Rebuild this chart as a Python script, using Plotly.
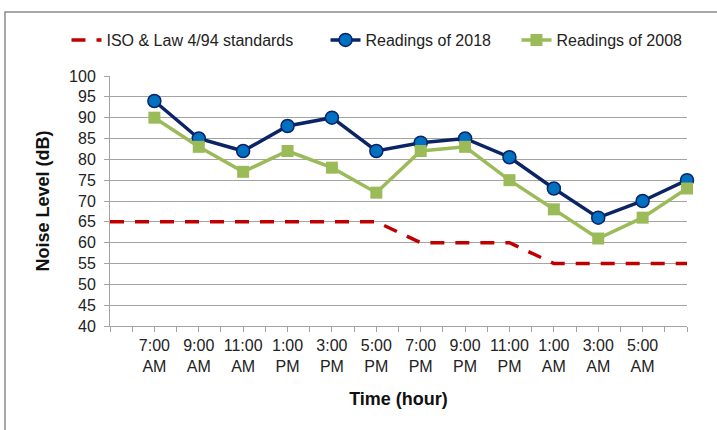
import plotly.graph_objects as go

# ---- data ----
reading_hours = [7, 9, 11, 13, 15, 17, 19, 21, 23, 25, 27, 29, 31]
readings_2018 = [94, 85, 82, 88, 90, 82, 84, 85, 80.5, 73, 66, 70, 75]
readings_2008 = [90, 83, 77, 82, 78, 72, 82, 83, 75, 68, 61, 66, 73]

standard_hours = [5, 7, 9, 11, 13, 15, 17, 19, 21, 23, 25, 27, 29, 31]
standard_values = [65, 65, 65, 65, 65, 65, 65, 60, 60, 60, 55, 55, 55, 55]

tick_hours = [7, 9, 11, 13, 15, 17, 19, 21, 23, 25, 27, 29]
tick_labels = ["7:00 AM", "9:00 AM", "11:00 AM", "1:00 PM", "3:00 PM", "5:00 PM",
               "7:00 PM", "9:00 PM", "11:00 PM", "1:00 AM", "3:00 AM", "5:00 AM"]

FONT = "Liberation Sans"
GRID = "#a3a3a3"
NAVY = "#0b2466"
BLUE = "#0070c0"
GREEN = "#9bbb59"
RED = "#c00000"
TXT = "#222222"

fig = go.Figure()
fig.add_trace(go.Scatter(
    x=standard_hours, y=standard_values, mode="lines",
    name="ISO & Law 4/94 standards", legend="legend",
    line=dict(color=RED, width=3.5, dash="14px,11px"),
    cliponaxis=False,
))
fig.add_trace(go.Scatter(
    x=reading_hours, y=readings_2018, mode="lines+markers",
    name="Readings of 2018", legend="legend2",
    line=dict(color=NAVY, width=3.5),
    marker=dict(symbol="circle", size=13, color=BLUE, line=dict(color=NAVY, width=1.5)),
    cliponaxis=False,
))
fig.add_trace(go.Scatter(
    x=reading_hours, y=readings_2008, mode="lines+markers",
    name="Readings of 2008", legend="legend3",
    line=dict(color=GREEN, width=3.5),
    marker=dict(symbol="square", size=12, color=GREEN, line=dict(color=GREEN, width=0)),
    cliponaxis=False,
))

def leg(x):
    return dict(orientation="h", x=x, xanchor="left", y=1.144, yanchor="middle",
                font=dict(family=FONT, size=16, color=TXT), bgcolor="rgba(0,0,0,0)")

fig.update_layout(
    width=717, height=430,
    margin=dict(l=110, r=30, t=76, b=104, autoexpand=False),
    paper_bgcolor="white", plot_bgcolor="white",
    font=dict(family=FONT, size=16, color=TXT),
    showlegend=True,
    legend=leg(-0.0754),
    legend2=leg(0.3735),
    legend3=leg(0.7045),
    shapes=[dict(type="rect", xref="paper", yref="paper",
                 x0=-0.182, x1=1.075, y0=-0.456, y1=1.256,
                 line=dict(color="#8c8c8c", width=1.5), fillcolor="rgba(0,0,0,0)", layer="below")],
)

fig.update_xaxes(
    range=[5, 31], tickmode="array", tickvals=tick_hours,
    ticktext=[t.replace(" ", "<br>") for t in tick_labels],
    showgrid=False, zeroline=False,
    showline=True, linecolor=GRID, linewidth=1,
    ticks="outside", ticklen=5, tickcolor=GRID,
    minor=dict(tick0=5, dtick=1, ticks="outside", ticklen=5, tickcolor=GRID, showgrid=False),
    tickfont=dict(family=FONT, size=16, color=TXT),
    title=dict(text="<b>Time (hour)</b>", font=dict(family=FONT, size=18, color="#111111"), standoff=18),
)
fig.update_yaxes(
    range=[40, 100], dtick=5, tick0=40,
    showgrid=True, gridcolor=GRID, gridwidth=1, zeroline=False,
    showline=True, linecolor=GRID, linewidth=1,
    ticks="outside", ticklen=5, tickcolor=GRID, ticklabelstandoff=5,
    tickfont=dict(family=FONT, size=16, color=TXT),
    title=dict(text="<b>Noise Level (dB)</b>", font=dict(family=FONT, size=18, color="#111111"), standoff=14),
)

fig.write_html("out.html", config={"displayModeBar": False},
               post_script="document.body.style.margin='0px';")
